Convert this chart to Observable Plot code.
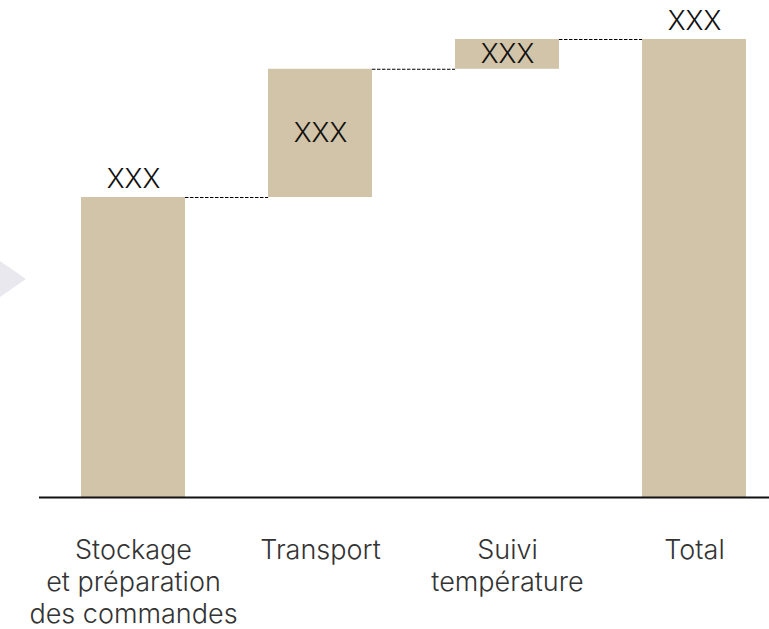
<!DOCTYPE html>
<html>
<head>
<meta charset="utf-8">
<script src="https://cdn.jsdelivr.net/npm/d3@7"></script>
<script src="https://cdn.jsdelivr.net/npm/@observablehq/plot@0.6"></script>
<style>
  html, body { margin: 0; padding: 0; background: #fff; }
  #wrap { position: relative; width: 769px; height: 629px; overflow: hidden; }
  #deco { position: absolute; left: 0; top: 0; }
  #chart { position: absolute; left: 0; top: 0; }
</style>
</head>
<body>
<div id="wrap">
  <svg id="deco" width="769" height="629"><polygon points="-40,233 26,279 -40,325" fill="#e9e8ee"/></svg>
  <div id="chart"></div>
</div>
<script>
// ---- data ----
const categories = ["Stockage et préparation des commandes", "Transport", "Suivi température", "Total"];
const tickLabels = ["Stockage\net préparation\ndes commandes", "Transport", "Suivi\ntempérature", "Total"];
const increments = [65.5, 28, 6.5];          // steps of the waterfall (Total is their sum)
const valueLabels = ["XXX", "XXX", "XXX", "XXX"];

// ---- build waterfall table ----
const rows = [];
let acc = 0;
increments.forEach((v, i) => {
  rows.push({cat: categories[i], tick: tickLabels[i], start: acc, end: acc + v, label: valueLabels[i]});
  acc += v;
});
rows.push({cat: categories[3], tick: tickLabels[3], start: 0, end: acc, label: valueLabels[3]});

const connectors = rows.slice(0, -1).map((r, i) => ({from: r.cat, to: rows[i + 1].cat, y: r.end}));

// layout constants for x band scale
const xRange = [39.5, 787.5];
const padIn = 0.444, padOut = 0.222;
const step = (xRange[1] - xRange[0]) / (categories.length - padIn + 2 * padOut);
const bw = step * (1 - padIn);

const font = "Inter, Roboto, sans-serif";

const chart = Plot.plot({
  width: 769,
  height: 629,
  marginTop: 39,
  marginBottom: 132,
  marginLeft: 39,
  marginRight: 0,
  style: {fontFamily: font, background: "transparent", overflow: "visible"},
  x: {type: "band", domain: categories, range: xRange, paddingInner: padIn, paddingOuter: padOut, axis: null},
  y: {domain: [0, 100], axis: null},
  marks: [
    Plot.ruleY(connectors, {
      x1: "from", x2: "to", y: "y",
      insetLeft: bw, insetRight: bw,
      stroke: "#000", strokeWidth: 1.1, strokeDasharray: "3.5,1.5"
    }),
    Plot.rectY(rows, {x: "cat", y1: "start", y2: "end", fill: "#d1c4a8"}),
    Plot.ruleY([0], {stroke: "#111", strokeWidth: 2.2}),
    // labels above (bars starting at zero)
    Plot.text(rows.filter(r => r.start === 0), {
      x: "cat", y: "end", text: "label", lineAnchor: "bottom", dy: -10,
      fontSize: 27, fontWeight: 300, fill: "#111"
    }),
    // labels inside floating bars
    Plot.text(rows.filter(r => r.start !== 0), {
      x: "cat", y: d => (d.start + d.end) / 2, text: "label", lineAnchor: "middle",
      fontSize: 27, fontWeight: 300, fill: "#111"
    }),
    // category labels
    Plot.text(rows, {
      x: "cat", text: "tick", frameAnchor: "bottom", lineAnchor: "top", dy: 38,
      lineHeight: 1.2, fontSize: 27, fontWeight: 300, fill: "#333"
    })
  ]
});
document.getElementById("chart").appendChild(chart);
</script>
</body>
</html>
